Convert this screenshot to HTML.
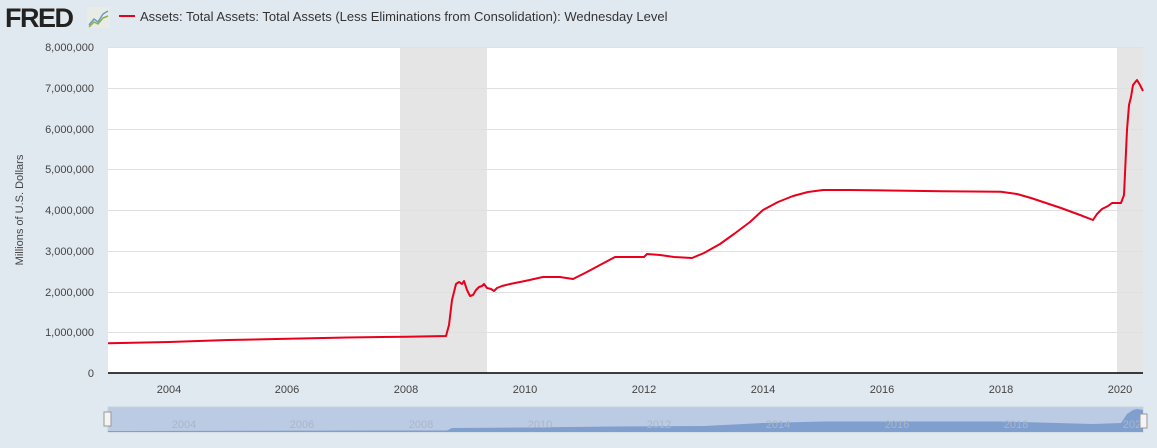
<!DOCTYPE html>
<html><head><meta charset="utf-8"><style>
body{margin:0;background:#e1e9f0;font-family:"Liberation Sans",sans-serif;}
</style></head><body>
<svg width="1157" height="443" xmlns="http://www.w3.org/2000/svg" font-family="Liberation Sans, sans-serif">
<rect width="1157" height="443" fill="#e1e9f0"/>
<text x="5" y="27" font-size="27" font-weight="bold" fill="#222" letter-spacing="-1.5">FRED</text>
<rect x="87" y="7" width="23" height="21" fill="#e8ece4" rx="2"/>
<polyline points="89,25 94,19 98,22 103,14 108,11" fill="none" stroke="#6a9ac8" stroke-width="1.5"/>
<polyline points="89,27 94,22 98,24 103,18 108,16" fill="none" stroke="#8ab04a" stroke-width="1.5"/>
<line x1="119" y1="16" x2="135" y2="16" stroke="#e8001c" stroke-width="2"/>
<text x="140" y="21" font-size="13" fill="#333">Assets: Total Assets: Total Assets (Less Eliminations from Consolidation): Wednesday Level</text>
<rect x="108" y="47" width="1035" height="326" fill="#fff"/>
<rect x="400" y="47" width="87" height="326" fill="#e5e5e5"/>
<rect x="1117" y="47" width="26" height="326" fill="#e5e5e5"/>
<g stroke="#e0e0e0" stroke-width="1">
<line x1="108" y1="47.5" x2="1143" y2="47.5"/><line x1="108" y1="88.5" x2="1143" y2="88.5"/><line x1="108" y1="129.5" x2="1143" y2="129.5"/><line x1="108" y1="169.5" x2="1143" y2="169.5"/><line x1="108" y1="210.5" x2="1143" y2="210.5"/><line x1="108" y1="251.5" x2="1143" y2="251.5"/><line x1="108" y1="292.5" x2="1143" y2="292.5"/><line x1="108" y1="332.5" x2="1143" y2="332.5"/>
</g>
<line x1="108" y1="373" x2="1143" y2="373" stroke="#000" stroke-width="1.5"/>
<g font-size="11" fill="#444" text-anchor="end">
<text x="94" y="51">8,000,000</text><text x="94" y="92">7,000,000</text><text x="94" y="133">6,000,000</text><text x="94" y="173">5,000,000</text><text x="94" y="214">4,000,000</text><text x="94" y="255">3,000,000</text><text x="94" y="296">2,000,000</text><text x="94" y="336">1,000,000</text><text x="94" y="377">0</text>
</g>
<text transform="translate(23,210) rotate(-90)" font-size="11" fill="#444" text-anchor="middle">Millions of U.S. Dollars</text>
<g font-size="11" fill="#444" text-anchor="middle">
<text x="169" y="393">2004</text><text x="287" y="393">2006</text><text x="406" y="393">2008</text><text x="525" y="393">2010</text><text x="644" y="393">2012</text><text x="763" y="393">2014</text><text x="882" y="393">2016</text><text x="1001" y="393">2018</text><text x="1120" y="393">2020</text>
</g>
<polyline fill="none" stroke="#e8001c" stroke-width="2" stroke-linejoin="round" points="108,343.3 169,342 228,340 288,338.8 347,337.5 407,336.7 446,336 449,325 452,300 456,284 459,282 462,284 464,281 467,290 470,296 473,295 476,290 479,287 482,286 484,284 487,288 491,289 494,291 497,288 502,286 510,284 525,281 543,277 560,277 573,279 585,273 600,265 615,257 644,257 647,254 660,255 674,257 692,258 704,253 720,244 734,234 750,222 763,210 778,202 793,196 808,192 823,190 850,190 882,190.4 942,191.3 1001,191.7 1017,194 1031,198 1046,203 1061,208 1080,215 1093,220 1097,214 1102,209 1108,206 1112,203 1121,203 1124,195 1127,130 1129,105 1131,97 1133,85 1137,80 1140,85 1143,91"/>
<rect x="108" y="407" width="1035" height="25" fill="#bccbe4" stroke="#c8d2dd"/>
<polygon fill="#7f9fcf" points="108,431 407,430.5 447,430.5 452,428 525,427.5 615,426.5 704,426 763,423 823,421.5 1001,421.5 1093,424 1121,423 1127,414 1133,410 1137,409 1143,410 1143,432 108,432"/>
<g font-size="11" fill="#a9b6c8" text-anchor="middle">
<text x="184" y="428">2004</text><text x="302" y="428">2006</text><text x="421" y="428">2008</text><text x="540" y="428">2010</text><text x="659" y="428">2012</text><text x="778" y="428">2014</text><text x="897" y="428">2016</text><text x="1016" y="428">2018</text><text x="1135" y="428">2020</text>
</g>
<rect x="104" y="412" width="7" height="14" fill="#f4f4f4" stroke="#999"/>
<rect x="1140" y="414" width="7" height="14" fill="#f4f4f4" stroke="#999"/>
</svg>
</body></html>
